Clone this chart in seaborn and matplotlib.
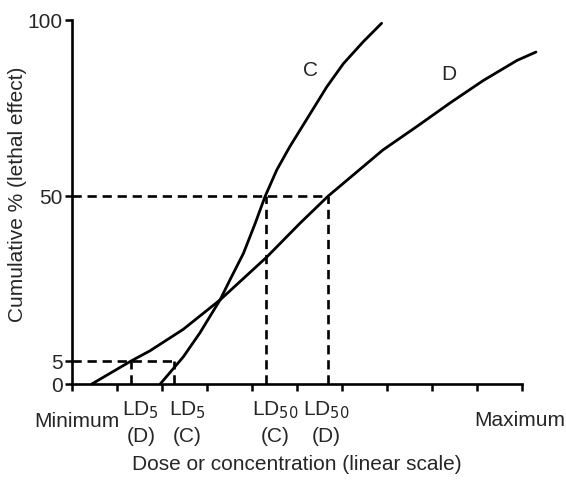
import numpy as np
import pandas as pd
import seaborn as sns
import matplotlib.pyplot as plt

# Curva C (mais íngreme) e curva D (mais rasa)
c_dose = [1.96, 2.47, 2.84, 3.29, 3.51, 3.81, 4.07, 4.29, 4.55, 4.84, 5.18, 5.66, 6.03, 6.47, 6.88]
c_effect = [0.0, 7.4, 14.0, 23.1, 28.6, 35.9, 44.1, 51.5, 58.8, 65.2, 72.0, 81.6, 88.0, 94.0, 99.1]

d_dose = [0.44, 1.31, 1.73, 2.47, 3.29, 4.33, 5.07, 5.69, 6.91, 7.67, 8.40, 9.13, 9.89, 10.31]
d_effect = [0.0, 6.3, 9.1, 15.0, 23.1, 34.9, 44.2, 51.6, 64.3, 70.8, 77.2, 83.3, 88.9, 91.2]

# Eixo y esquemático: posição no gráfico de cada marca
y_tick_pos = [0, 6.3, 51.6, 100]
y_tick_labels = ["0", "5", "50", "100"]
x_ticks = list(range(0, 11))

# Doses LD5 / LD50
ld5 = {"D": 1.31, "C": 2.27}
ld50 = {"C": 4.31, "D": 5.69}
y5, y50 = 6.3, 51.6

ld_labels = ["LD$_5$\n(D)", "LD$_5$\n(C)", "LD$_{50}$\n(C)", "LD$_{50}$\n(D)"]
ld_label_x = [1.53, 2.56, 4.52, 5.66]

sns.set_theme(style="ticks")
plt.rcParams['font.family'] = ['Liberation Sans', 'DejaVu Sans']
FS = 15

fig = plt.figure(figsize=(5.66, 4.84), dpi=100)
ax = fig.add_axes([72 / 566, 100 / 484, 450 / 566, 364 / 484])

df_c = pd.DataFrame({"dose": c_dose, "effect": c_effect})
df_d = pd.DataFrame({"dose": d_dose, "effect": d_effect})
sns.lineplot(data=df_c, x="dose", y="effect", sort=False, estimator=None,
             color="black", lw=2.0, ax=ax)
sns.lineplot(data=df_d, x="dose", y="effect", sort=False, estimator=None,
             color="black", lw=2.0, ax=ax)
for l in ax.lines:
    l.set_clip_on(False)
    l.set_solid_joinstyle("round")

dash = (0, (3.5, 2.2))
kw = dict(color="black", lw=1.9, linestyle=dash, clip_on=False)
ax.plot([0, ld5["C"]], [y5, y5], **kw)
ax.plot([ld5["D"], ld5["D"]], [0, y5], **kw)
ax.plot([ld5["C"], ld5["C"]], [0, y5], **kw)
ax.plot([0, ld50["D"]], [y50, y50], **kw)
ax.plot([ld50["C"], ld50["C"]], [0, y50], **kw)
ax.plot([ld50["D"], ld50["D"]], [0, y50], **kw)

ax.text(5.31, 86.0, "C", fontsize=FS, ha="center", va="center")
ax.text(8.38, 84.9, "D", fontsize=FS, ha="center", va="center")

ax.set_xlim(0, 10)
ax.set_ylim(0, 100)
ax.set_xticks(x_ticks)
ax.set_xticklabels([])
ax.set_yticks(y_tick_pos)
ax.set_yticklabels(y_tick_labels, fontsize=FS)
ax.tick_params(axis="both", length=5, width=1.8, color="black", pad=1.5)
ax.set_xlabel("")
ax.set_ylabel("")
sns.despine(ax=ax)
for s in ["left", "bottom"]:
    ax.spines[s].set_linewidth(1.9)
    ax.spines[s].set_color("black")

for lab, x in zip(ld_labels, ld_label_x):
    ax.annotate(lab, xy=(x, 0), xycoords=("data", "axes fraction"),
                xytext=(0, -11), textcoords="offset points",
                ha="center", va="top", fontsize=FS, linespacing=1.4)

ax.annotate("Minimum", xy=(0.11, 0), xycoords=("data", "axes fraction"),
            xytext=(0, -27), textcoords="offset points",
            ha="center", va="center", fontsize=FS)
ax.annotate("Maximum", xy=(9.96, 0), xycoords=("data", "axes fraction"),
            xytext=(0, -26), textcoords="offset points",
            ha="center", va="center", fontsize=FS)

fig.text(297 / 566, 1 - 465 / 484, "Dose or concentration (linear scale)",
         ha="center", va="center", fontsize=FS)
fig.text(18 / 566, 1 - 194 / 484, "Cumulative % (lethal effect)",
         ha="center", va="center", rotation=90, fontsize=FS)

fig.savefig("out.png", dpi=100)
